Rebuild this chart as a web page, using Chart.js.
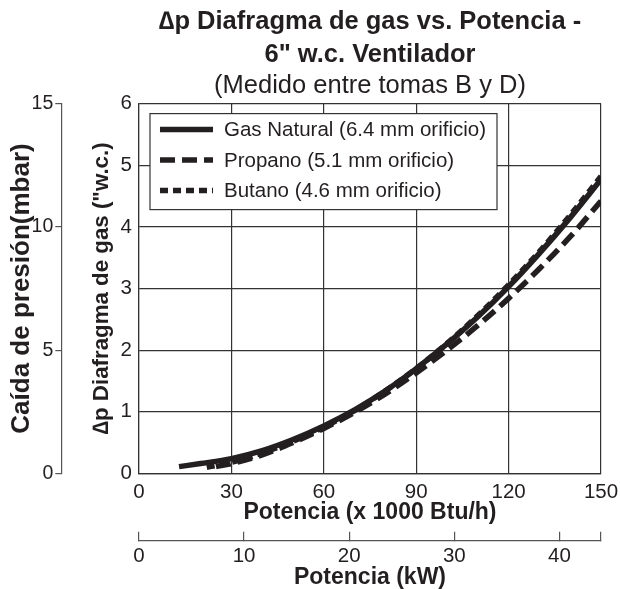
<!DOCTYPE html>
<html>
<head>
<meta charset="utf-8">
<script src="https://cdn.jsdelivr.net/npm/chart.js@4"></script>
<style>
  html, body { margin: 0; padding: 0; background: #fff; }
  #wrap { width: 620px; height: 589px; }
</style>
</head>
<body>
<div id="wrap"><canvas id="chart" width="620" height="589"></canvas></div>
<script>
// values
const gasX = [13, 20, 30, 40, 50, 60, 70, 80, 90, 100, 110, 120, 130, 140, 150];
const gasY = [0.11, 0.16, 0.24, 0.37, 0.55, 0.77, 1.03, 1.34, 1.70, 2.10, 2.54, 3.03, 3.57, 4.15, 4.77];

const propX = [25, 30, 40, 50, 60, 70, 80, 90, 100, 110, 120, 130, 140, 150];
const propY = [0.11, 0.16, 0.30, 0.50, 0.73, 0.99, 1.29, 1.63, 2.00, 2.40, 2.84, 3.32, 3.84, 4.42];

const butX = [22, 30, 40, 50, 60, 70, 80, 90, 100, 110, 120, 130, 140, 150];
const butY = [0.10, 0.18, 0.33, 0.52, 0.75, 1.02, 1.34, 1.70, 2.11, 2.56, 3.06, 3.60, 4.19, 4.82];

const seriesLabels = ['Gas Natural (6.4 mm orificio)', 'Propano (5.1 mm orificio)', 'Butano (4.6 mm orificio)'];

const btuMax = 150;          // x 1000 Btu/h
const kwMax = 150 * 0.29307; // same range in kW
const kwTicks = [0, 10, 20, 30, 40];
const wcMax = 6;             // "w.c.
const mbarMax = 15;

const INK = '#231f20';
const GRID = '#333';
const AXIS = '#555';
const FONT = "'Liberation Sans', Arial, sans-serif";

function pts(xs, ys) {
  return xs.map((x, i) => ({ x: x, y: ys[i] }));
}

// legend box drawn inside the plot, like the original
const boxLegend = {
  id: 'boxLegend',
  afterDatasetsDraw(chart) {
    const { ctx, chartArea } = chart;
    const x0 = chartArea.left + 11, y0 = chartArea.top + 10;
    const w = 347, h = 96;
    ctx.save();
    ctx.fillStyle = '#fff';
    ctx.fillRect(x0, y0, w, h);
    ctx.strokeStyle = GRID;
    ctx.lineWidth = 1.2;
    ctx.strokeRect(x0, y0, w, h);
    chart.data.datasets.forEach((ds, i) => {
      const y = y0 + 16 + i * 30.5;
      ctx.beginPath();
      ctx.setLineDash(ds.borderDash || []);
      ctx.lineWidth = ds.borderWidth;
      ctx.strokeStyle = ds.borderColor;
      ctx.moveTo(x0 + 10, y);
      ctx.lineTo(x0 + 63, y);
      ctx.stroke();
      ctx.setLineDash([]);
      ctx.fillStyle = INK;
      ctx.font = '20.5px ' + FONT;
      ctx.textBaseline = 'middle';
      ctx.fillText(ds.label, x0 + 74, y + 1);
    });
    ctx.restore();
  }
};

new Chart(document.getElementById('chart'), {
  type: 'line',
  data: {
    datasets: [
      { label: seriesLabels[0], data: pts(gasX, gasY), borderColor: INK, borderWidth: 5.5, borderDash: [], pointRadius: 0, tension: 0.4, cubicInterpolationMode: 'monotone' },
      { label: seriesLabels[1], data: pts(propX, propY), borderColor: INK, borderWidth: 5.5, borderDash: [15, 7], pointRadius: 0, tension: 0.4, cubicInterpolationMode: 'monotone' },
      { label: seriesLabels[2], data: pts(butX, butY), borderColor: INK, borderWidth: 5.5, borderDash: [8, 5], pointRadius: 0, tension: 0.4, cubicInterpolationMode: 'monotone' }
    ]
  },
  options: {
    responsive: false,
    animation: false,
    layout: { padding: { left: 0, right: 19, top: 0, bottom: 0 } },
    plugins: {
      legend: { display: false },
      tooltip: { enabled: false },
      title: {
        display: true,
        fullSize: false,
        text: ['\u2206p Diafragma de gas vs. Potencia -', '6" w.c. Ventilador'],
        color: INK,
        font: { family: FONT, size: 25.5, weight: 'bold', lineHeight: 1.294 },
        padding: { top: 5, bottom: 0 }
      },
      subtitle: {
        display: true,
        fullSize: false,
        text: '(Medido entre tomas B y D)',
        color: INK,
        font: { family: FONT, size: 25.5, weight: 'normal', lineHeight: 1.2 },
        padding: { top: 0, bottom: 2 }
      }
    },
    scales: {
      x: {
        type: 'linear', position: 'bottom', weight: 0,
        min: 0, max: btuMax,
        ticks: { stepSize: 30, color: INK, autoSkip: false, maxRotation: 0, padding: 1, font: { family: FONT, size: 20.5, lineHeight: 1.0 } },
        grid: { color: GRID, lineWidth: 1.2, drawTicks: true, tickLength: 8, tickColor: 'rgba(0,0,0,0)' },
        border: { color: GRID, width: 1.2 },
        title: { display: true, text: 'Potencia (x 1000 Btu/h)', color: INK, font: { family: FONT, size: 23, weight: 'bold', lineHeight: 1.1 }, padding: { top: -4.15, bottom: 15.6 } }
      },
      x2: {
        type: 'linear', position: 'bottom', weight: 1,
        min: 0, max: kwMax,
        afterBuildTicks: axis => { axis.ticks = kwTicks.concat([kwMax]).map(v => ({ value: v })); },
        ticks: {
          color: INK, autoSkip: false, maxRotation: 0, padding: 14,
          font: { family: FONT, size: 20.5, lineHeight: 1.0 },
          callback: v => (kwTicks.includes(v) ? v : '')
        },
        grid: { drawOnChartArea: false, color: AXIS, lineWidth: 1.2, tickLength: -9 },
        border: { color: AXIS, width: 1.2 },
        title: { display: true, text: 'Potencia (kW)', color: INK, font: { family: FONT, size: 23, weight: 'bold', lineHeight: 1.0 }, padding: { top: -14.15, bottom: 0 } }
      },
      y: {
        type: 'linear', position: 'left', weight: 0,
        min: 0, max: wcMax,
        ticks: { stepSize: 1, color: INK, padding: 7, font: { family: FONT, size: 20.5 } },
        grid: { color: GRID, lineWidth: 1.2, drawTicks: false },
        border: { color: GRID, width: 1.2 },
        title: { display: true, text: '\u2206p Diafragma de gas ("w.c.)', color: INK, font: { family: FONT, size: 22.3, weight: 'bold', lineHeight: 1.0 }, padding: { top: 29, bottom: 1 } }
      },
      y2: {
        type: 'linear', position: 'left', weight: 1,
        min: 0, max: mbarMax,
        ticks: { stepSize: 5, color: INK, padding: 2, font: { family: FONT, size: 19.5 } },
        grid: { drawOnChartArea: false, color: AXIS, lineWidth: 1.2, tickLength: 6 },
        border: { color: AXIS, width: 1.2 },
        title: { display: true, text: 'Caída de presión(mbar)', color: INK, font: { family: FONT, size: 26, weight: 'bold', lineHeight: 0.6 }, padding: { top: 14, bottom: 0 } }
      }
    }
  },
  plugins: [boxLegend]
});
</script>
</body>
</html>
